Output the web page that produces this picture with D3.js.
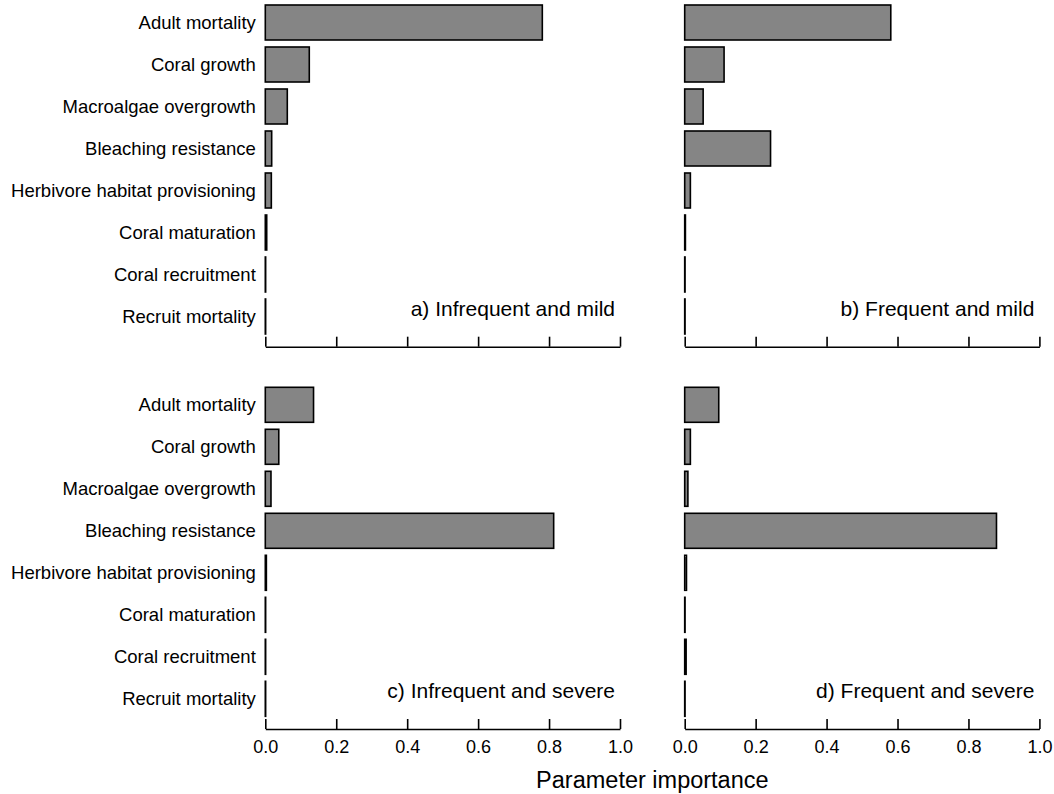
<!DOCTYPE html>
<html>
<head>
<meta charset="utf-8">
<script src="https://cdn.jsdelivr.net/npm/d3@7"></script>
<style>
  body { margin: 0; background: #fff; }
  text { font-family: "Liberation Sans", Arial, Helvetica, sans-serif; fill: #000; }
</style>
</head>
<body>
<script>
const w = 1054;
const h = 794;

// parameters, top to bottom
const params = ["Adult mortality", "Coral growth", "Macroalgae overgrowth", "Bleaching resistance",
  "Herbivore habitat provisioning", "Coral maturation", "Coral recruitment", "Recruit mortality"];

// importance per panel
const infrequentMild = [0.781, 0.124, 0.062, 0.018, 0.017, 0.004, 0.001, 0.001];
const frequentMild = [0.581, 0.111, 0.052, 0.242, 0.016, 0.002, 0.001, 0.001];
const infrequentSevere = [0.136, 0.038, 0.016, 0.813, 0.003, 0.001, 0.001, 0.001];
const frequentSevere = [0.096, 0.016, 0.009, 0.879, 0.005, 0.001, 0.004, 0.001];

const panelTitles = ["a) Infrequent and mild", "b) Frequent and mild", "c) Infrequent and severe", "d) Frequent and severe"];
const tickValues = [0, 0.2, 0.4, 0.6, 0.8, 1.0];

const svg = d3.select("body")
    .append("svg")
    .attr("width", w)
    .attr("height", h)

const panelW = 354.7;
const panelH = 345.2;
const cols = [265.3, 684.7];
const rows = [1.5, 383.8];

const xScale = d3.scaleLinear()
  .domain([0, 1])
  .range([0, panelW])

const yScale = d3.scaleBand()
  .domain(params)
  .range([0, 336])
  .paddingInner(1 / 6)
  .paddingOuter(1 / 12)

const panels = [
  {vals: infrequentMild, col: 0, row: 0},
  {vals: frequentMild, col: 1, row: 0},
  {vals: infrequentSevere, col: 0, row: 1},
  {vals: frequentSevere, col: 1, row: 1}
]

panels.forEach((p, i) => {
  const g = svg.append("g")
    .attr("transform", `translate(${cols[p.col]}, ${rows[p.row]})`)

  // bars
  g.selectAll(".bar")
    .data(params)
    .enter()
    .append("rect")
      .attr("class", "bar")
      .attr("x", 0)
      .attr("y", d => yScale(d))
      .attr("width", (d, j) => xScale(p.vals[j]))
      .attr("height", yScale.bandwidth())
      .style("fill", "#858585")
      .style("stroke", "#000")
      .style("stroke-width", 1.6)

  // x axis, ticks pointing inward
  const xAxis = d3.axisBottom(xScale)
    .tickValues(tickValues)
    .tickSizeInner(-10)
    .tickSizeOuter(0)
    .tickPadding(11)
    .tickFormat(d3.format(".1f"))

  const ax = g.append("g")
    .attr("transform", `translate(0, ${panelH})`)
    .call(xAxis)

  ax.selectAll("path, line").style("stroke", "#000").style("stroke-width", 1.6)
  ax.selectAll("text")
    .style("font-size", "18px")
    .style("font-family", "'Liberation Sans', Arial, sans-serif")
    .style("fill", "#000")
  if (p.row === 0) ax.selectAll("text").remove()

  // category labels on left panels only
  if (p.col === 0) {
    g.selectAll(".lab")
      .data(params)
      .enter()
      .append("text")
        .attr("class", "lab")
        .attr("x", -9.5)
        .attr("y", d => yScale(d) + yScale.bandwidth() / 2)
        .attr("dy", "0.36em")
        .attr("text-anchor", "end")
        .style("font-size", "18.5px")
        .text(d => d)
  }

  // panel title
  g.append("text")
    .attr("x", panelW - 5)
    .attr("y", yScale(params[7]) + yScale.bandwidth() / 2 - 1)
    .attr("text-anchor", "end")
    .style("font-size", "21px")
    .text(panelTitles[i])
})

// shared axis title
svg.append("text")
  .attr("x", (cols[0] + cols[1] + panelW) / 2)
  .attr("y", 788)
  .attr("text-anchor", "middle")
  .style("font-size", "23.5px")
  .text("Parameter importance")
</script>
</body>
</html>
